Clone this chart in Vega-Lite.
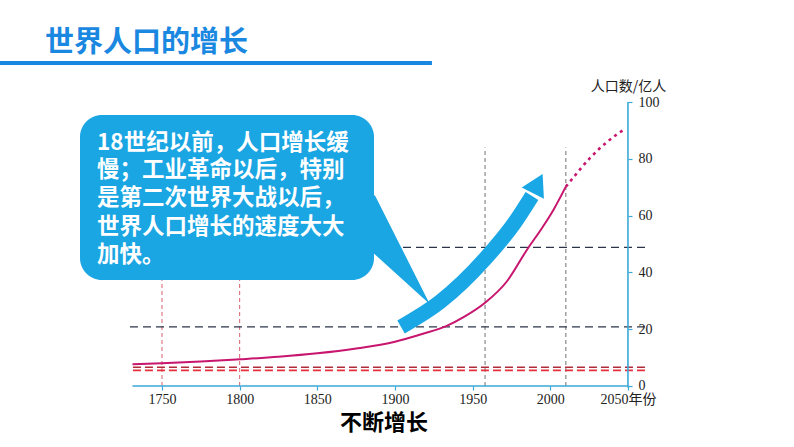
{
  "$schema": "https://vega.github.io/schema/vega-lite/v6.json",
  "width": 794,
  "height": 447,
  "autosize": {"type": "none"},
  "padding": 0,
  "background": "white",
  "config": {"view": {"stroke": null}},
  "encoding": {
    "x": {
      "field": "year", "type": "quantitative",
      "scale": {"domain": [1645.7, 2156.9], "nice": false, "zero": false},
      "axis": {
        "orient": "bottom", "offset": -61, "values": [1750, 1800, 1850, 1900, 1950, 2000, 2050],
        "format": "d", "labelExpr": "datum.value == 2050 ? '2050年份' : datum.label",
        "domain": false, "grid": false, "title": null,
        "tickColor": "#3aa9d8", "tickSize": 4, "tickWidth": 1.2,
        "labelFont": "Liberation Serif, Noto Sans CJK SC", "labelFontSize": 14, "labelColor": "#222222",
        "labelPadding": 2, "labelFlush": false, "labelOverlap": false
      }
    },
    "y": {
      "field": "value", "type": "quantitative",
      "scale": {"domain": [-21.48, 135.92], "nice": false, "zero": false},
      "axis": {
        "orient": "right", "offset": -166, "values": [0, 20, 40, 60, 80, 100],
        "domain": false, "grid": false,
        "tickColor": "#3aa9d8", "tickSize": 4, "tickWidth": 1.2,
        "labelFont": "Liberation Serif", "labelFontSize": 14, "labelColor": "#222222", "labelPadding": 6,
        "labelFlush": false, "labelOverlap": false,
        "title": "人口数/亿人", "titleAngle": 0, "titleX": 0, "titleY": 86,
        "titleAlign": "center", "titleBaseline": "middle",
        "titleFont": "Noto Sans CJK SC", "titleFontSize": 14, "titleFontWeight": "normal", "titleColor": "#222222"
      }
    }
  },
  "layer": [
    {
      "data": {"values": [
        {"year": 1750, "value": 0, "value2": 40},
        {"year": 1800, "value": 0, "value2": 40}
      ]},
      "mark": {"type": "rule", "color": "#d9606e", "strokeDash": [4, 3], "strokeWidth": 1},
      "encoding": {"y2": {"field": "value2"}}
    },
    {
      "data": {"values": [
        {"year": 1958, "value": 0, "value2": 84},
        {"year": 2010, "value": 0, "value2": 84}
      ]},
      "mark": {"type": "rule", "color": "#8a8a8a", "strokeDash": [4, 3], "strokeWidth": 1.2},
      "encoding": {"y2": {"field": "value2"}}
    },
    {
      "data": {"values": [
        {"year": 1729.4, "year2": 2062.9, "value": 20.8},
        {"year": 1729.4, "year2": 2062.9, "value": 48.8}
      ]},
      "mark": {"type": "rule", "color": "#2c3448", "strokeDash": [8, 5], "strokeWidth": 1.3},
      "encoding": {"x2": {"field": "year2"}}
    },
    {
      "data": {"values": [
        {"year": 1731.3, "year2": 2062.9, "value": 6.6, "kind": "upper"},
        {"year": 1731.3, "year2": 2062.9, "value": 5.5, "kind": "lower"}
      ]},
      "mark": {"type": "rule", "strokeDash": [8, 4], "strokeWidth": 1.6},
      "encoding": {
        "x2": {"field": "year2"},
        "color": {"field": "kind", "type": "nominal", "scale": {"domain": ["upper", "lower"], "range": ["#b02a3a", "#e8303c"]}, "legend": null}
      }
    },
    {
      "data": {"values": [
        {"year": 1731, "year2": 2050, "value": 0}
      ]},
      "mark": {"type": "rule", "color": "#3aa9d8", "strokeWidth": 1.6},
      "encoding": {"x2": {"field": "year2"}}
    },
    {
      "data": {"values": [
        {"year": 2050, "value": -0.5, "value2": 100}
      ]},
      "mark": {"type": "rule", "color": "#3aa9d8", "strokeWidth": 1.6},
      "encoding": {"y2": {"field": "value2"}}
    },
    {
      "data": {"values": [
        {"year": 1731, "value": 7.7},
        {"year": 1750, "value": 8.0},
        {"year": 1775, "value": 8.6},
        {"year": 1800, "value": 9.4},
        {"year": 1825, "value": 10.3},
        {"year": 1850, "value": 11.5},
        {"year": 1875, "value": 13.2},
        {"year": 1900, "value": 15.6},
        {"year": 1918, "value": 18.4},
        {"year": 1933, "value": 21.1},
        {"year": 1945, "value": 24.5},
        {"year": 1958, "value": 29.3},
        {"year": 1972, "value": 36.8},
        {"year": 1985, "value": 48.0},
        {"year": 1995, "value": 55.9},
        {"year": 2002, "value": 62.0},
        {"year": 2010, "value": 70.2}
      ]},
      "mark": {"type": "line", "color": "#c8156e", "strokeWidth": 2, "interpolate": "monotone"}
    },
    {
      "data": {"values": [
        {"year": 2010, "value": 70.2},
        {"year": 2012.7, "value": 72.0},
        {"year": 2025.6, "value": 80.3},
        {"year": 2036, "value": 85.7},
        {"year": 2048, "value": 90.5}
      ]},
      "mark": {"type": "line", "color": "#c8156e", "strokeWidth": 2.6, "strokeDash": [3, 4], "interpolate": "monotone"}
    },
    {
      "data": {"values": [
        {"year": 1903.9, "value": 20.8},
        {"year": 1929.0, "value": 29.6},
        {"year": 1957.9, "value": 44.7},
        {"year": 1977.3, "value": 57.7},
        {"year": 1988.2, "value": 66.9}
      ]},
      "mark": {"type": "line", "color": "#1aa7e6", "strokeWidth": 15, "strokeCap": "butt", "interpolate": "monotone"}
    },
    {
      "data": {"values": [
        {"year": 1991.9, "value": 71.3}
      ]},
      "mark": {"type": "point", "shape": "triangle-up", "filled": true, "size": 620, "angle": 27, "color": "#1aa7e6", "opacity": 1}
    },
    {
      "data": {"values": [
        {"year": 1876.2, "value": 62.0, "w": 44},
        {"year": 1921.9, "value": 29.2, "w": 0.5}
      ]},
      "mark": {"type": "trail", "color": "#1aa5e3"},
      "encoding": {"size": {"field": "w", "type": "quantitative", "scale": null}}
    },
    {
      "data": {"values": [
        {"year": 1697.2, "year2": 1886.5, "value": 95.4, "value2": 37.3}
      ]},
      "mark": {"type": "rect", "color": "#1aa5e3", "cornerRadius": 22},
      "encoding": {"x2": {"field": "year2"}, "y2": {"field": "value2"}}
    },
    {
      "data": {"values": [
        {"year": 1708.2, "value": 85.6, "line": "18世纪以前，人口增长缓"},
        {"year": 1708.2, "value": 76.1, "line": "慢；工业革命以后，特别"},
        {"year": 1708.2, "value": 66.2, "line": "是第二次世界大战以后，"},
        {"year": 1708.2, "value": 56.0, "line": "世界人口增长的速度大大"},
        {"year": 1708.2, "value": 46.1, "line": "加快。"}
      ]},
      "mark": {"type": "text", "align": "left", "baseline": "middle", "font": "Noto Sans CJK SC", "fontSize": 22.5, "fontWeight": "bold", "color": "white"},
      "encoding": {"text": {"field": "line"}}
    },
    {
      "data": {"values": [
        {"year": 1645.7, "year2": 1923.8, "value": 113.7}
      ]},
      "mark": {"type": "rule", "color": "#1a88e0", "strokeWidth": 4},
      "encoding": {"x2": {"field": "year2"}}
    },
    {
      "data": {"values": [
        {"year": 1674.7, "value": 120.8, "label": "世界人口的增长"}
      ]},
      "mark": {"type": "text", "align": "left", "baseline": "middle", "font": "Noto Sans CJK SC", "fontSize": 29, "fontWeight": "bold", "color": "#1a88e0"},
      "encoding": {"text": {"field": "label"}}
    },
    {
      "data": {"values": [
        {"year": 1892.9, "value": -13.0, "label": "不断增长"}
      ]},
      "mark": {"type": "text", "align": "center", "baseline": "middle", "font": "Noto Sans CJK SC", "fontSize": 22, "fontWeight": "bold", "color": "#000000"},
      "encoding": {"text": {"field": "label"}}
    }
  ]
}
